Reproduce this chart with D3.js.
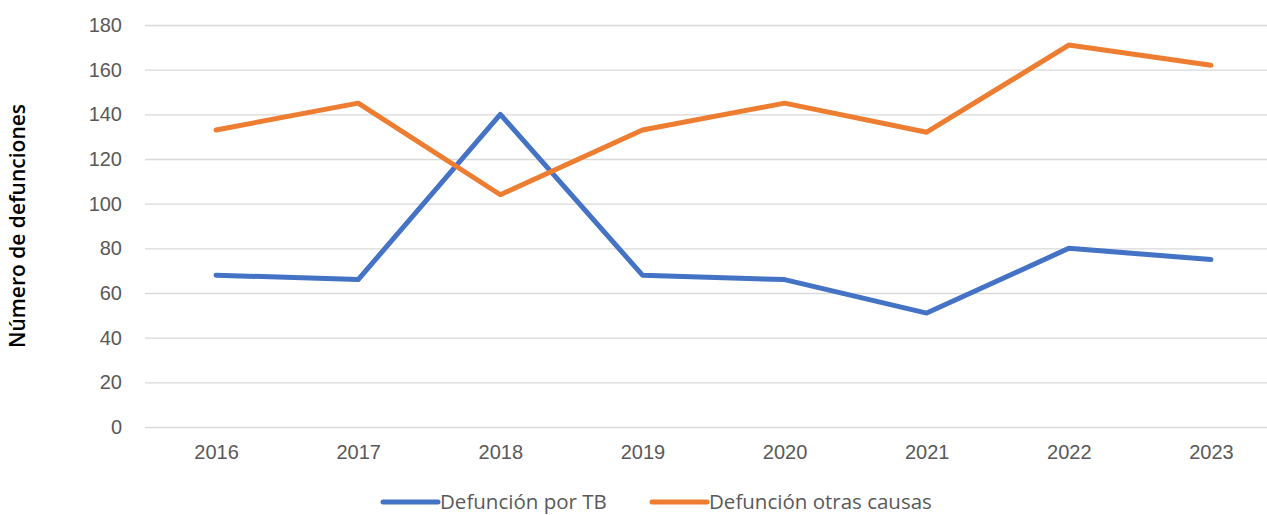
<!DOCTYPE html>
<html>
<head>
<meta charset="utf-8">
<script src="https://cdn.jsdelivr.net/npm/d3@7"></script>
<style>
  body { margin: 0; background: #fff; }
  svg { font-family: "Open Sans", "Noto Sans", sans-serif; }
  .tick-label { fill: #595959; font-size: 20px; }
  .legend-label { fill: #595959; font-size: 20.5px; }
  .axis-title { fill: #000; font-size: 21px; }
</style>
</head>
<body>
<svg></svg>
<script>
// chart data
var years = ["2016", "2017", "2018", "2019", "2020", "2021", "2022", "2023"];
var tbDeaths = [68, 66, 140, 68, 66, 51, 80, 75];
var otherDeaths = [133, 145, 104, 133, 145, 132, 171, 162];
var yTicks = [0, 20, 40, 60, 80, 100, 120, 140, 160, 180];
var seriesNames = ["Defunción por TB", "Defunción otras causas"];

document.addEventListener("DOMContentLoaded", function() {
  drawChart();
});

function drawChart() {
  var svgWidth = 1267, svgHeight = 515;
  var margin = { top: 25, right: -15, bottom: 88, left: 145 };
  var width = svgWidth - margin.left - margin.right;
  var height = svgHeight - margin.top - margin.bottom;

  var svg = d3.select("svg")
    .attr("width", svgWidth)
    .attr("height", svgHeight);

  var chart = svg.append("g")
    .attr("transform", `translate(${margin.left}, ${margin.top})`);

  var x = d3.scalePoint()
    .domain(years)
    .range([0, width])
    .padding(0.5);

  var y = d3.scaleLinear()
    .domain([0, 180])
    .range([height, 0]);

  //grid lines
  chart.append("g")
    .call(d3.axisLeft(y).tickValues(yTicks).tickSize(-width).tickFormat(""))
    .call(g => g.select(".domain").remove())
    .call(g => g.selectAll("line").attr("stroke", "#d9d9d9").attr("stroke-width", 1.3));

  //y tick labels
  chart.append("g")
    .call(d3.axisLeft(y).tickValues(yTicks).tickSize(0).tickPadding(23))
    .call(g => g.select(".domain").remove())
    .call(g => g.selectAll("text").attr("class", "tick-label").attr("font-size", null).attr("font-family", null));

  //x tick labels
  chart.append("g")
    .attr("transform", "translate(0," + height + ")")
    .call(d3.axisBottom(x).tickSize(0).tickPadding(18))
    .call(g => g.select(".domain").remove())
    .call(g => g.selectAll("text").attr("class", "tick-label").attr("font-size", null).attr("font-family", null));

  //lines
  var series = [
    { name: seriesNames[0], values: tbDeaths, color: "#4472c4" },
    { name: seriesNames[1], values: otherDeaths, color: "#ed7d31" }
  ];

  var line = d3.line()
    .x((d, i) => x(years[i]))
    .y(d => y(d));

  chart.selectAll(".series")
    .data(series)
    .enter()
    .append("path")
    .attr("class", "series")
    .attr("fill", "none")
    .attr("stroke", d => d.color)
    .attr("stroke-width", 5)
    .attr("stroke-linejoin", "round")
    .attr("stroke-linecap", "round")
    .attr("d", d => line(d.values));

  //y axis title
  svg.append("text")
    .attr("class", "axis-title")
    .attr("transform", "translate(25," + (margin.top + height / 2) + ") rotate(-90)")
    .attr("text-anchor", "middle")
    .attr("font-weight", 600)
    .text("Número de defunciones");

  //legend
  var legendX = [383, 652];
  var legend = svg.selectAll(".legend")
    .data(series)
    .enter()
    .append("g")
    .attr("class", "legend")
    .attr("transform", (d, i) => `translate(${legendX[i]}, 502)`);

  legend.append("line")
    .attr("x1", 0).attr("x2", 55)
    .attr("stroke", d => d.color)
    .attr("stroke-width", 5)
    .attr("stroke-linecap", "round");

  legend.append("text")
    .attr("class", "legend-label")
    .attr("x", 57)
    .attr("dy", "0.35em")
    .text(d => d.name);
}
</script>
</body>
</html>
